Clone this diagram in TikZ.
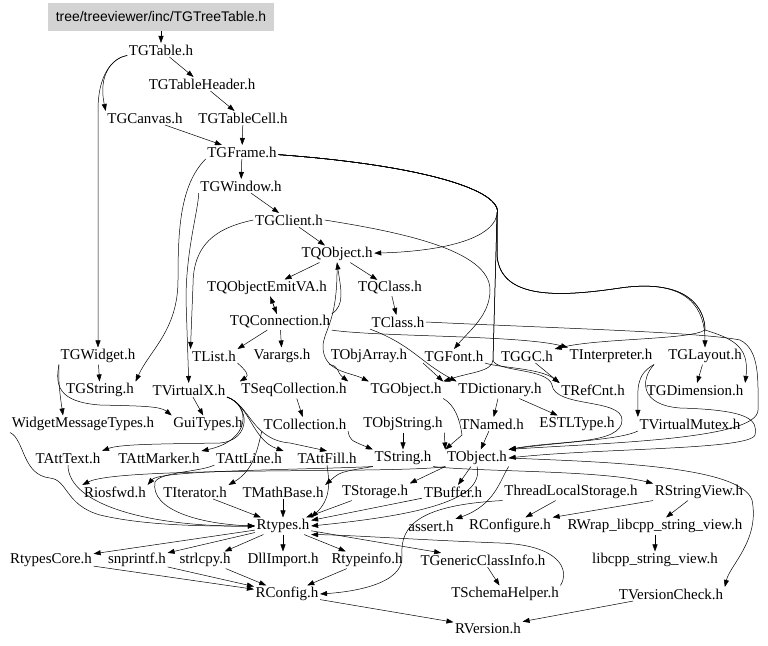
\documentclass[tikz,border=0pt]{standalone}
\usepackage{fontspec}
\setmainfont{Liberation Serif}
\newfontfamily\rootfont{Liberation Sans}
\usetikzlibrary{arrows.meta}
\definecolor{boxgray}{RGB}{211,211,211}
\begin{document}
\begin{tikzpicture}[x=1bp,y=-1bp,>={Triangle[length=7bp,width=5bp]},line width=.5pt]
\tikzstyle{every node}=[inner sep=1.5pt, font=\fontsize{15}{18}\selectfont]
\useasboundingbox (0,0) rectangle (768,646);
\draw (161,17) node (tgtreetable) [fill=boxgray,minimum width=226bp,minimum height=28bp,font=\rootfont\fontsize{14}{16}\selectfont] {tree/treeviewer/inc/TGTreeTable.h};
\draw (161,50) node (tgtable) {TGTable.h};
\draw (202,84) node (tgheader) {TGTableHeader.h};
\draw (145,118) node (tgcanvas) {TGCanvas.h};
\draw (243,118) node (tgcell) {TGTableCell.h};
\draw (242,152) node (tgframe) {TGFrame.h};
\draw (241,186) node (tgwindow) {TGWindow.h};
\draw (289,220) node (tgclient) {TGClient.h};
\draw (337,254) node (tqobject) {TQObject.h};
\draw (267,288) node (tqemit) {TQObjectEmitVA.h};
\draw (390,288) node (tqclass) {TQClass.h};
\draw (280,322) node (tqconn) {TQConnection.h};
\draw (398,322) node (tclass) {TClass.h};
\draw (98,356) node (tgwidget) {TGWidget.h};
\draw (214,356) node (tlist) {TList.h};
\draw (282,356) node (varargs) {Varargs.h};
\draw (369,356) node (tobjarray) {TObjArray.h};
\draw (454,356) node (tgfont) {TGFont.h};
\draw (527,356) node (tggc) {TGGC.h};
\draw (611,356) node (tinterp) {TInterpreter.h};
\draw (705,356) node (tglayout) {TGLayout.h};
\draw (100,390) node (tgstring) {TGString.h};
\draw (189,390) node (tvirtualx) {TVirtualX.h};
\draw (294,390) node (tseqcoll) {TSeqCollection.h};
\draw (406,390) node (tgobject) {TGObject.h};
\draw (500,390) node (tdict) {TDictionary.h};
\draw (593,390) node (trefcnt) {TRefCnt.h};
\draw (695,390) node (tgdim) {TGDimension.h};
\draw (83,424) node (wmtypes) {WidgetMessageTypes.h};
\draw (208,424) node (guitypes) {GuiTypes.h};
\draw (305,424) node (tcoll) {TCollection.h};
\draw (403,424) node (tobjstring) {TObjString.h};
\draw (492,424) node (tnamed) {TNamed.h};
\draw (577,424) node (estltype) {ESTLType.h};
\draw (690,424) node (tvmutex) {TVirtualMutex.h};
\draw (68,458) node (tatttext) {TAttText.h};
\draw (159,458) node (tattmarker) {TAttMarker.h};
\draw (249,458) node (tattline) {TAttLine.h};
\draw (327,458) node (tattfill) {TAttFill.h};
\draw (403,458) node (tstring) {TString.h};
\draw (477,458) node (tobject) {TObject.h};
\draw (115,492) node (riosfwd) {Riosfwd.h};
\draw (195,492) node (titer) {TIterator.h};
\draw (283,492) node (tmathbase) {TMathBase.h};
\draw (375,492) node (tstorage) {TStorage.h};
\draw (453,492) node (tbuffer) {TBuffer.h};
\draw (571,492) node (tls) {ThreadLocalStorage.h};
\draw (699,492) node (rstrview) {RStringView.h};
\draw (283,526) node (rtypes) {Rtypes.h};
\draw (431,526) node (assert) {assert.h};
\draw (510,526) node (rconfigure) {RConfigure.h};
\draw (655,526) node (rwrap) {RWrap\_libcpp\_string\_view.h};
\draw (51,560) node (rtypescore) {RtypesCore.h};
\draw (137,560) node (snprintf) {snprintf.h};
\draw (205,560) node (strlcpy) {strlcpy.h};
\draw (283,560) node (dllimport) {DllImport.h};
\draw (367,560) node (rtypeinfo) {Rtypeinfo.h};
\draw (483,560) node (tgci) {TGenericClassInfo.h};
\draw (655,560) node (libcpp) {libcpp\_string\_view.h};
\draw (287,594) node (rconfig) {RConfig.h};
\draw (505,594) node (tschema) {TSchemaHelper.h};
\draw (671,594) node (tvcheck) {TVersionCheck.h};
\draw (488,628) node (rversion) {RVersion.h};
% upper gui part
\draw[->] (tgtreetable) -- (tgtable);
\draw[->] (tgtable) -- (tgheader);
\draw[->] (tgtable) .. controls (112,58) and (98,75) .. (tgcanvas.north west);
\draw[->] (tgtable) .. controls (112,58) and (98,75) .. (98,110) -- (tgwidget);
\draw[->] (tgheader) -- (tgcell);
\draw[->] (tgcanvas) -- (tgframe);
\draw[->] (tgcell) -- (tgframe);
\draw[->] (tgframe) -- (tgwindow);
\draw[->] (tgwindow) -- (tgclient);
\draw[->] (tgclient) -- (tqobject);
\draw[->] (tgframe) .. controls (420,165) and (505,190) .. (497,215) .. controls (490,245) and (420,252) .. (tqobject);
\draw[->] (tgframe) .. controls (420,165) and (505,190) .. (497,215) -- (497,255) .. controls (500,300) and (560,297) .. (620,288) .. controls (690,278) and (705,310) .. (tglayout);
\draw[->] (tgframe) .. controls (420,165) and (505,190) .. (497,215) -- (497,255) .. controls (500,300) and (560,297) .. (620,288) .. controls (690,278) and (705,310) .. (705,330) .. controls (690,340) and (600,338) .. (tggc.north east);
\draw[->] (tgframe) .. controls (420,165) and (505,190) .. (497,215) -- (497,255) .. controls (500,300) and (560,297) .. (620,288) .. controls (690,278) and (705,310) .. (705,330) .. controls (730,338) and (750,345) .. (tgdim.north east);
\draw[->] (tgframe) .. controls (420,165) and (505,190) .. (497,215) -- (493,360) .. controls (492,372) and (470,372) .. (tgobject.north east);
\draw[->] (tgframe) .. controls (420,165) and (505,190) .. (497,215) -- (493,360) .. controls (495,372) and (548,368) .. (552,385) .. controls (555,408) and (622,398) .. (622,420) .. controls (622,445) and (560,440) .. (tobject.north east);
\draw[->] (tgclient.east) .. controls (400,232) and (490,250) .. (490,290) .. controls (490,315) and (470,330) .. (tgfont.north);
\draw[->] (tgframe.south west) .. controls (180,185) and (178,230) .. (178,280) .. controls (178,330) and (150,350) .. (tgstring.north east);
\draw[->] (tgwindow.south west) .. controls (198,212) and (186,250) .. (186,300) -- (tvirtualx);
\draw[->] (tgclient.west) .. controls (215,228) and (193,245) .. (193,285) -- (tlist.north west);
% signal slot part
\draw[->] (tqobject) -- (tqemit);
\draw[->] (tqobject) -- (tqclass);
\draw[->] (tqemit) -- (tqconn);
\draw[->] (tqconn) -- (tqemit);
\draw[->] (tqclass) -- (tclass);
\draw[->] (tqconn.north east) .. controls (345,305) and (341,290) .. (tqobject.south);
\draw[->] (tqobject.south) .. controls (338,320) and (325,328) .. (323,345) .. controls (322,372) and (350,372) .. (tgobject.north west);
\draw[->] (tqconn) -- (varargs);
\draw[->] (tqconn) -- (tlist.north east);
\draw[->] (tqconn.south east) .. controls (380,337) and (520,335) .. (tinterp.north west);
\draw[->] (tclass.east) .. controls (550,328) and (700,332) .. (740,340) .. controls (760,350) and (758,380) .. (758,410) .. controls (758,440) and (600,443) .. (tobject.north east);
\draw[->] (tclass.south west) .. controls (412,345) and (420,362) .. (tdict.north west);
% middle rows
\draw[->] (tgwidget) -- (tgstring);
\draw[->] (tgwidget.south west) .. controls (58,380) and (60,395) .. ([xshift=-20bp]wmtypes.north);
\draw[->] (tgwidget.south west) .. controls (55,385) and (58,402) .. (100,405) .. controls (140,406) and (160,406) .. (guitypes.north west);
\draw[->] (tvirtualx) -- (guitypes);
\draw[->] (tvirtualx.south east) .. controls (250,405) and (252,440) .. (220,443) .. controls (160,444) and (120,444) .. (tatttext.north east);
\draw[->] (tvirtualx.south east) .. controls (250,405) and (252,440) .. (tattmarker.north east);
\draw[->] (tvirtualx.south east) .. controls (250,405) and (252,440) .. (tattline.north east);
\draw[->] (tvirtualx.south east) .. controls (250,405) and (252,440) .. (290,443) -- (tattfill.north);
\draw[->] (tlist.south east) .. controls (245,370) and (250,375) .. (tseqcoll.north west);
\draw[->] (tobjarray.south west) .. controls (340,366) and (336,372) .. (tseqcoll.north east);
\draw[->] (tgfont.south west) -- (tgobject.north east);
\draw[->] (tgfont.south east) .. controls (500,368) and (540,368) .. (trefcnt.north west);
\draw[->] (tggc) -- (trefcnt.north west);
\draw[->] (tglayout) -- (tgdim);
\draw[->] (tinterp.south east) .. controls (635,375) and (638,390) .. (tvmutex.north west);
\draw[->] (tinterp.south east) .. controls (640,380) and (640,405) .. (680,408) .. controls (750,410) and (758,420) .. (755,435) .. controls (750,450) and (600,448) .. (tobject.east);
\draw[->] (tdict) -- (tnamed);
\draw[->] (tdict) -- (estltype);
\draw[->] (tseqcoll) -- (tcoll);
\draw[->] (tgobject.south east) .. controls (455,405) and (460,420) .. (462,435) -- (tobject.north west);
\draw[->] (tobjstring) -- (tstring);
\draw[->] (tobjstring.south east) -- (tobject.north west);
\draw[->] (tcoll.south east) .. controls (350,440) .. (tstring.north west);
\draw[->] (tcoll.south west) .. controls (258,445) and (255,470) .. (titer.north east);
\draw[->] (tnamed) -- (tobject);
\draw[->] (tvmutex.south west) .. controls (620,440) and (560,442) .. (tobject.north east);
% lower rows
\draw[->] (wmtypes.south west) .. controls (25,440) and (22,475) .. (50,478) .. controls (68,480) and (65,505) .. (100,515) .. controls (150,527) and (220,526) .. (rtypes.west);
\draw[->] (tatttext.south) .. controls (68,505) and (150,527) .. (rtypes.west);
\draw[->] (tattline.south west) .. controls (200,472) and (160,472) .. (155,482) .. controls (150,510) and (200,524) .. (rtypes.west);
\draw[->] (tattfill.south) .. controls (330,485) and (330,500) .. (rtypes.north east);
\draw[->] (titer) -- (rtypes);
\draw[->] (tmathbase) -- (rtypes);
\draw[->] (tstorage) -- (rtypes);
\draw[->] (tbuffer) -- (rtypes);
\draw[->] (tstring.south west) .. controls (300,470) and (160,470) .. (riosfwd.north east);
\draw[->] (tobject.south west) .. controls (400,474) and (120,466) .. (riosfwd.north west);
\draw[->] (tstring.south west) .. controls (340,472) .. (tmathbase.north east);
\draw[->] (tstring.south east) .. controls (480,472) and (600,470) .. (rstrview.north west);
\draw[->] (tobject.south west) -- (tstorage.north east);
\draw[->] (tobject) -- (tbuffer);
\draw[->] (tobject.east) .. controls (600,462) and (740,465) .. (752,500) .. controls (760,540) and (730,565) .. (tvcheck.north east);
\draw[->] (tobject.south east) .. controls (500,480) and (495,505) .. (assert.north east);
\draw[->] (tobject.south) .. controls (485,500) and (420,515) .. (rtypes.east);
\draw[->] (tls) -- (rconfigure);
\draw[->] (tls.south west) .. controls (420,505) and (400,525) .. (402,555) .. controls (405,585) and (350,592) .. (rconfig.east);
\draw[->] (rstrview.south west) -- (rconfigure.north east);
\draw[->] (rstrview) -- (rwrap);
\draw[->] (rwrap) -- (libcpp);
\draw[->] (rtypes) -- (rtypescore);
\draw[->] (rtypes) -- (snprintf);
\draw[->] (rtypes) -- (strlcpy);
\draw[->] (rtypes) -- (dllimport);
\draw[->] (rtypes) -- (rtypeinfo);
\draw[->] (rtypes) -- (tgci);
\draw[->] (tschema.north east) .. controls (570,570) and (560,545) .. (500,543) .. controls (420,540) and (350,535) .. (rtypes.south east);
\draw[->] (tgci) -- (tschema);
\draw[->] (rtypescore) -- (rconfig);
\draw[->] (snprintf) -- (rconfig);
\draw[->] (strlcpy) -- (rconfig);
\draw[->] (rtypeinfo) -- (rconfig);
\draw[->] (rconfig) -- (rversion);
\draw[->] (tvcheck) -- (rversion);
\end{tikzpicture}
\end{document}
